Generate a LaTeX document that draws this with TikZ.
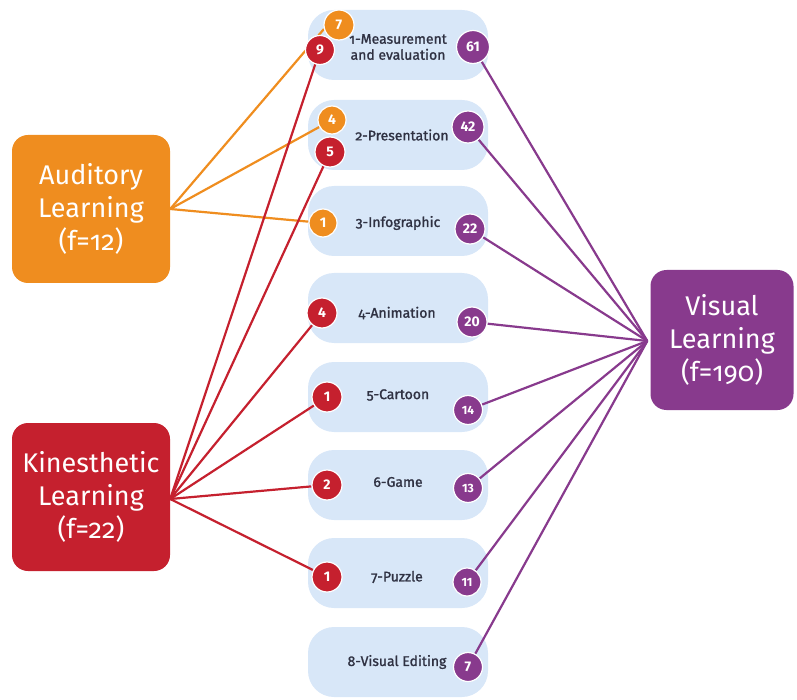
\documentclass[tikz,border=0pt]{standalone}
\usepackage{fontspec}
\setmainfont{Fira Sans}
\newfontfamily\oldfig{Fira Sans}[Numbers=OldStyle]
\newfontfamily\pillfont{Fira Sans}[Numbers=OldStyle, FakeBold=1.3]
\definecolor{aorange}{HTML}{EF8D1F}
\definecolor{kred}{HTML}{C5202E}
\definecolor{vpurple}{HTML}{883A8D}
\definecolor{pillblue}{HTML}{D8E7F8}
\definecolor{pilltext}{HTML}{2F3142}
\pgfdeclarelayer{bg}
\pgfdeclarelayer{lines}
\pgfsetlayers{bg,lines,main}
\tikzset{
  pill/.style={fill=pillblue, rounded corners=26pt, minimum width=180pt, minimum height=70pt, inner sep=0pt},
  pilllabel/.style={text=pilltext, font=\pillfont\fontsize{14}{16}\selectfont, align=center, inner sep=0pt},
  bigbox/.style={rounded corners=16pt, minimum width=158pt, minimum height=148pt, inner sep=0pt, text=white, align=center, font=\oldfig\fontsize{27}{33}\selectfont},
  badge/.style={circle, minimum size=30pt, inner sep=0pt, draw=white, line width=1.2pt, text=white, font=\bfseries\fontsize{14}{14}\selectfont},
  abadge/.style={badge, fill=aorange},
  kbadge/.style={badge, fill=kred},
  vbadge/.style={badge, fill=vpurple},
  aline/.style={draw=aorange, line width=2.2pt},
  kline/.style={draw=kred, line width=2.2pt},
  vline/.style={draw=vpurple, line width=2.2pt}
}
\begin{document}
\begin{tikzpicture}[x=1pt,y=-1pt]
\useasboundingbox (0,0) rectangle (797,700);
% pills
\begin{pgfonlayer}{bg}
\node[pill] (p1) at (398,45) {};
\node[pill] (p2) at (398,135) {};
\node[pill] (p3) at (398,221) {};
\node[pill] (p4) at (398,308) {};
\node[pill] (p5) at (398,397) {};
\node[pill] (p6) at (398,485) {};
\node[pill] (p7) at (398,573) {};
\node[pill] (p8) at (398,662) {};
\end{pgfonlayer}
% pill labels
\node[pilllabel] (t1) at (398,47) {1-Measurement\\and evaluation};
\node[pilllabel] (t2) at (402,135) {2-Presentation};
\node[pilllabel] (t3) at (398,223) {3-Infographic};
\node[pilllabel] (t4) at (397,313) {4-Animation};
\node[pilllabel] (t5) at (398,395) {5-Cartoon};
\node[pilllabel] (t6) at (398,482) {6-Game};
\node[pilllabel] (t7) at (397,577) {7-Puzzle};
\node[pilllabel] (t8) at (397,662) {8-Visual Editing};
% big boxes
\node[bigbox, fill=aorange] (aud) at (91,209) {Auditory\\Learning\\(f=12)};
\node[bigbox, fill=kred] (kin) at (91,497) {Kinesthetic\\Learning\\(f=22)};
\node[bigbox, fill=vpurple, minimum width=143pt, minimum height=140pt] (vis) at (722,340) {Visual\\Learning\\(f=190)};
% badges
\node[kbadge, minimum size=29pt] (k1) at (320,50) {9};
\node[abadge] (a1) at (339,25) {7};
\node[abadge, minimum size=28pt] (a2) at (332,120) {4};
\node[kbadge] (k2) at (330,152) {5};
\node[abadge, minimum size=28pt] (a3) at (323,223) {1};
\node[kbadge] (k3) at (322,313) {4};
\node[kbadge] (k4) at (327,397) {1};
\node[kbadge] (k5) at (327,485) {2};
\node[kbadge] (k6) at (327,577) {1};
\node[vbadge, minimum size=33pt] (v1) at (473,47) {61};
\node[vbadge, minimum size=32pt] (v2) at (468,127) {42};
\node[vbadge] (v3) at (470,229) {22};
\node[vbadge] (v4) at (472,322) {20};
\node[vbadge, minimum size=29pt, font=\bfseries\fontsize{12}{12}\selectfont] (v5) at (468,410) {14};
\node[vbadge, minimum size=29pt, font=\bfseries\fontsize{12}{12}\selectfont] (v6) at (468,488) {13};
\node[vbadge, minimum size=28pt, font=\bfseries\fontsize{12}{12}\selectfont] (v7) at (467,582) {11};
\node[vbadge, minimum size=29pt] (v8) at (468,667) {7};
% hubs
\coordinate (ahub) at (aud.east);
\coordinate (khub) at ([yshift=-2pt]kin.east);
\coordinate (vhub) at ([xshift=-3pt,yshift=-1pt]vis.west);
% connectors
\begin{pgfonlayer}{lines}
\draw[aline] (ahub) -- (a1.195);
\draw[aline] (ahub) -- (a2);
\draw[aline] (ahub) -- (a3);
\draw[kline] (khub) -- (k1);
\draw[kline] (khub) -- (k2);
\draw[kline] (khub) -- (k3);
\draw[kline] (khub) -- (k4);
\draw[kline] (khub) -- (k5);
\draw[kline] (khub) -- (k6);
\draw[vline] (v1) -- (vhub);
\draw[vline] (v2) -- (vhub);
\draw[vline] (v3) -- (vhub);
\draw[vline] (v4) -- (vhub);
\draw[vline] (v5) -- (vhub);
\draw[vline] (v6) -- (vhub);
\draw[vline] (v7) -- (vhub);
\draw[vline] (v8) -- (vhub);
\end{pgfonlayer}
\end{tikzpicture}
\end{document}
